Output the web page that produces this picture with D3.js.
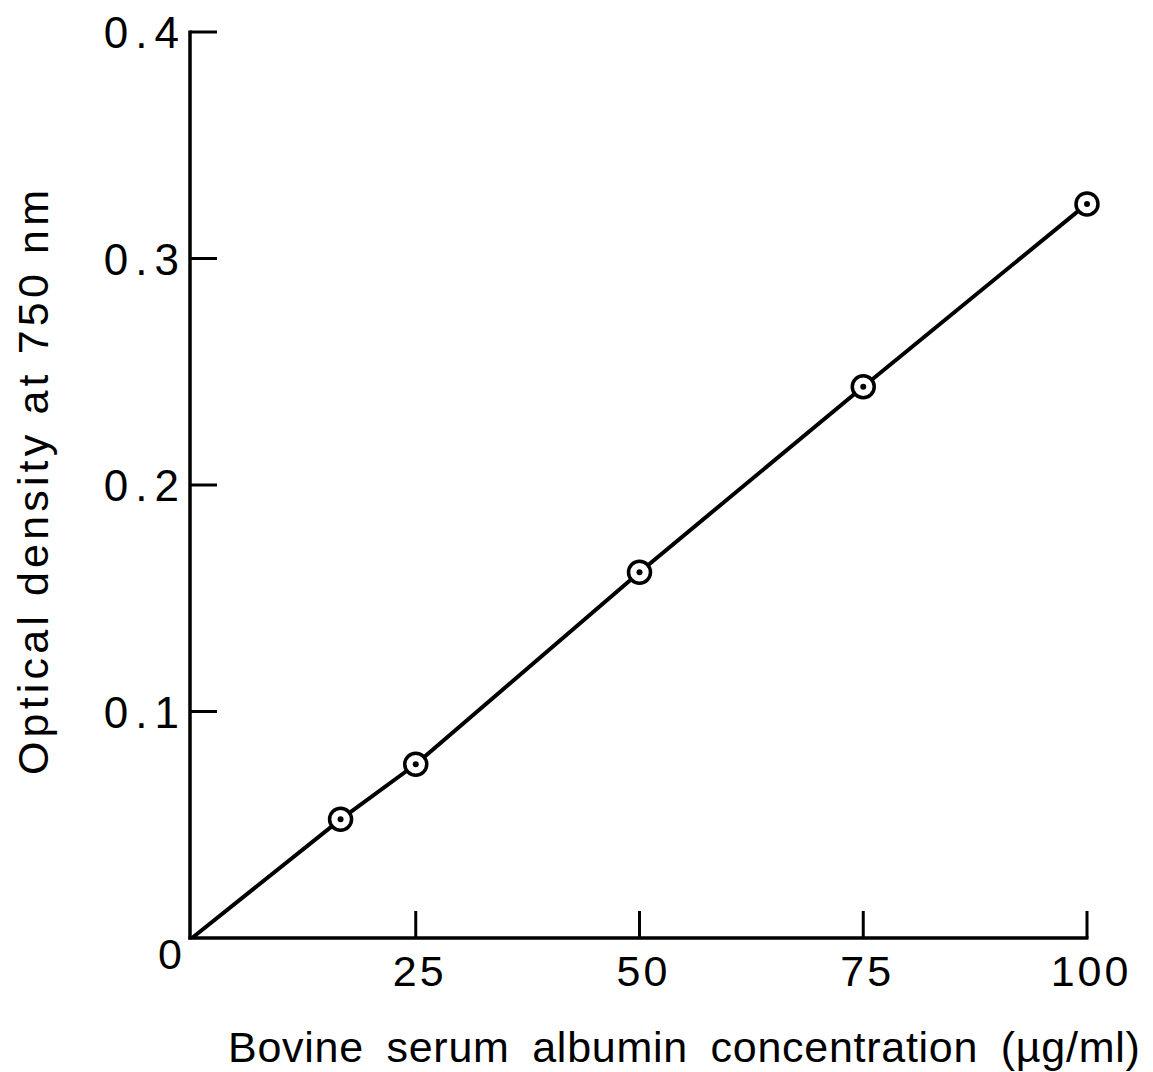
<!DOCTYPE html>
<html>
<head>
<meta charset="utf-8">
<script src="https://cdn.jsdelivr.net/npm/d3@7"></script>
<style>
  html, body { margin: 0; padding: 0; background: #fff; }
  svg { display: block; }
  text { font-family: "Liberation Sans", "DejaVu Sans", sans-serif; fill: #000; }
</style>
</head>
<body>
<script>
// Protein standard curve (Lowry): BSA concentration vs optical density
const concentrations = [16.6, 25, 50, 75, 100];          // µg/ml
const opticalDensity = [0.0524, 0.0767, 0.1615, 0.2434, 0.3241];
const xTicks = [25, 50, 75, 100];
const yTicks = [0.1, 0.2, 0.3, 0.4];
const yTickLabels = ["0.1", "0.2", "0.3", "0.4"];
const xLabel = "Bovine serum albumin concentration (µg/ml)";
const yLabel = "Optical density at 750 nm";

const W = 1153, H = 1072;
const svg = d3.select("body").append("svg").attr("width", W).attr("height", H);

const x = d3.scaleLinear().domain([0, 100]).range([192, 1087]);
const y = d3.scaleLinear().domain([0, 0.4]).range([938, 32]);

const ink = "#000";

// axes frame
const g = svg.append("g");
g.append("line").attr("x1", x(0) - 2).attr("x2", x(0) - 2).attr("y1", y(0) + 1.5).attr("y2", y(0.4) - 1.5)
  .attr("stroke", ink).attr("stroke-width", 3.5);
g.append("line").attr("x1", x(0) - 3.5).attr("x2", x(100) + 1.5).attr("y1", y(0)).attr("y2", y(0))
  .attr("stroke", ink).attr("stroke-width", 3.5);

// x ticks (pointing up into the plot)
g.selectAll(".xt").data(xTicks).join("line")
  .attr("x1", d => x(d)).attr("x2", d => x(d))
  .attr("y1", y(0)).attr("y2", y(0) - 27)
  .attr("stroke", ink).attr("stroke-width", 3);
g.selectAll(".xl").data(xTicks).join("text")
  .attr("x", d => x(d) + 4).attr("y", y(0) + 48)
  .attr("text-anchor", "middle").attr("font-size", 43)
  .attr("letter-spacing", 3)
  .text(d => d);

// origin label
g.append("text").attr("x", x(0) - 22).attr("y", y(0) + 31)
  .attr("text-anchor", "middle").attr("font-size", 43).text("0");

// y ticks (pointing right into the plot)
g.selectAll(".yt").data(yTicks).join("line")
  .attr("x1", x(0) - 2).attr("x2", x(0) + 25)
  .attr("y1", d => y(d)).attr("y2", d => y(d))
  .attr("stroke", ink).attr("stroke-width", 3);
g.selectAll(".yl").data(yTicks).join("text")
  .attr("x", x(0) - 6).attr("y", d => y(d) + 16)
  .attr("text-anchor", "end").attr("font-size", 44)
  .attr("letter-spacing", 7)
  .text((d, i) => yTickLabels[i]);

// calibration line from the origin through the standards
const pts = [[0, 0]].concat(concentrations.map((c, i) => [c, opticalDensity[i]]));
g.append("path")
  .attr("d", d3.line().x(d => x(d[0])).y(d => y(d[1]))(pts))
  .attr("fill", "none").attr("stroke", ink).attr("stroke-width", 4);

// circled-dot markers
const m = g.selectAll(".pt").data(concentrations.map((c, i) => [c, opticalDensity[i]])).join("g")
  .attr("transform", d => `translate(${x(d[0])},${y(d[1])})`);
m.append("circle").attr("r", 11).attr("fill", "#fff").attr("stroke", ink).attr("stroke-width", 3.5);
m.append("circle").attr("r", 3).attr("fill", ink);

// axis titles
svg.append("text").attr("x", 228).attr("y", 1062)
  .attr("font-size", 43).attr("letter-spacing", 1.2).attr("word-spacing", 10)
  .attr("textLength", 913).attr("lengthAdjust", "spacing")
  .text(xLabel);

svg.append("text")
  .attr("transform", `translate(48,${(190 + 775) / 2}) rotate(-90)`)
  .attr("text-anchor", "middle").attr("font-size", 43)
  .attr("textLength", 585).attr("lengthAdjust", "spacing")
  .text(yLabel);
</script>
</body>
</html>
